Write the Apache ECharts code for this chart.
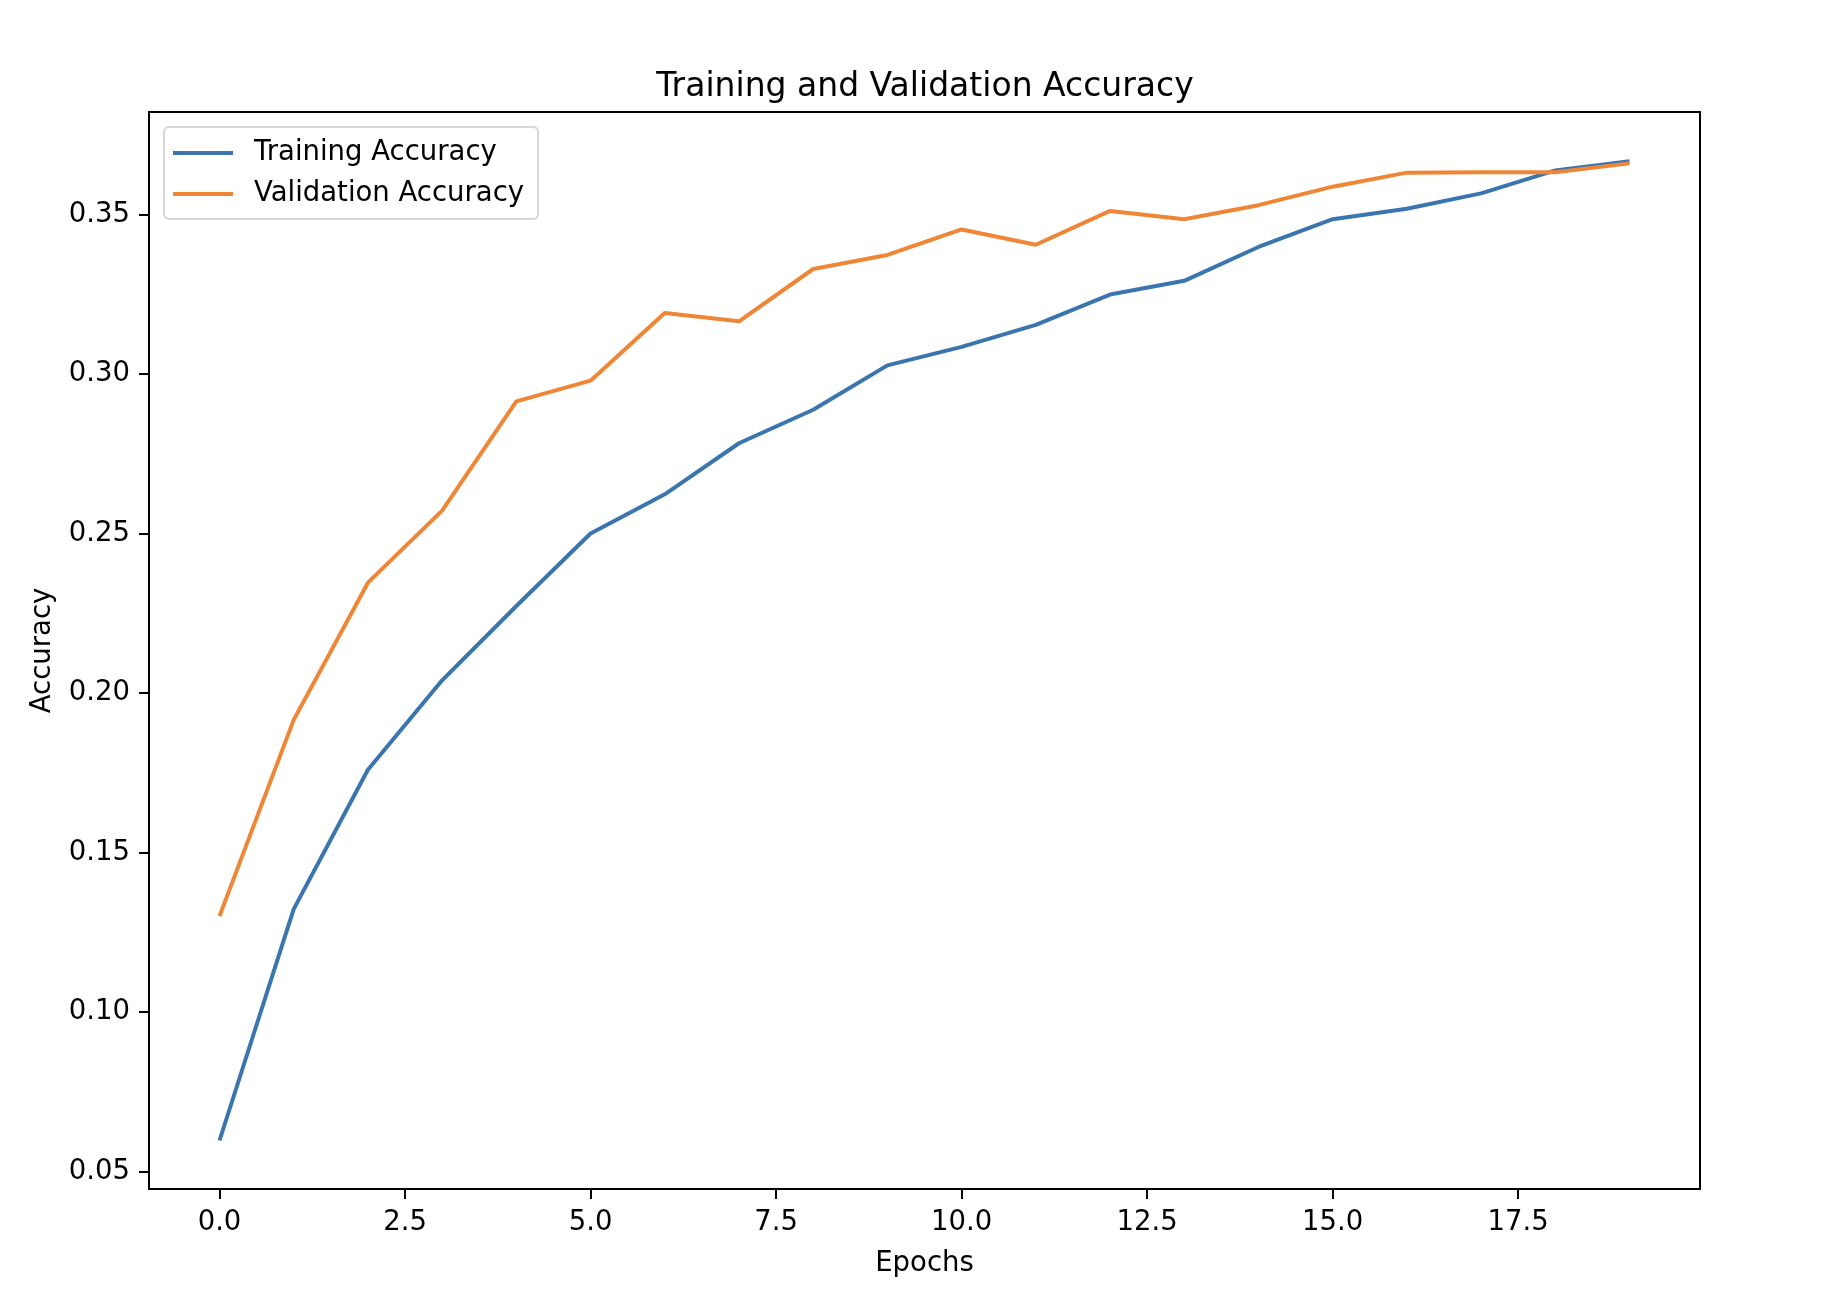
<!DOCTYPE html>
<html>
<head>
<meta charset="utf-8">
<script src="https://cdn.jsdelivr.net/npm/echarts@6/dist/echarts.min.js"></script>
<style>
  html, body { margin: 0; padding: 0; background: #fff; }
  #chart { width: 1824px; height: 1308px; }
</style>
</head>
<body>
<div id="chart"></div>
<script>
// epochs 0..19
const epochs = [0, 1, 2, 3, 4, 5, 6, 7, 8, 9, 10, 11, 12, 13, 14, 15, 16, 17, 18, 19];
const trainAcc = [0.0598, 0.1323, 0.1760, 0.2040, 0.2273, 0.2500, 0.2623, 0.2783, 0.2888, 0.3027,
                  0.3085, 0.3154, 0.3249, 0.3292, 0.3398, 0.3485, 0.3518, 0.3566, 0.3638, 0.3667];
const valAcc = [0.1301, 0.1916, 0.2346, 0.2572, 0.2914, 0.2979, 0.3191, 0.3165, 0.3329, 0.3373,
                0.3453, 0.3405, 0.3511, 0.3485, 0.3529, 0.3587, 0.3631, 0.3632, 0.3632, 0.3660];
const xTicks = [0, 2.5, 5, 7.5, 10, 12.5, 15, 17.5];
const yTicks = [0.05, 0.10, 0.15, 0.20, 0.25, 0.30, 0.35];

const FONT = 'DejaVu Sans';
const BLUE = '#3b75af';
const ORANGE = '#ef8636';

let chart = echarts.init(document.getElementById('chart'));

function pairs(ys){
    return epochs.map((e, i) => [e, ys[i]]);
}

let option = {
    animation: false,
    backgroundColor: '#fff',
    title: {
        text: 'Training and Validation Accuracy',
        left: 920,
        textAlign: 'center',
        top: 66,
        textStyle: { fontFamily: FONT, fontSize: 33, fontWeight: 'normal', color: '#000' }
    },
    legend: {
        orient: 'vertical',
        left: 164,
        top: 127,
        padding: [11, 14, 10, 9],
        itemGap: 11,
        itemWidth: 60,
        itemHeight: 4,
        icon: 'rect',
        backgroundColor: 'rgba(255,255,255,0.8)',
        borderColor: '#d6d6d6',
        borderWidth: 2,
        borderRadius: 5,
        textStyle: { fontFamily: FONT, fontSize: 27.5, color: '#000', lineHeight: 30, padding: [0, 0, 0, 16] },
        data: ['Training Accuracy', 'Validation Accuracy']
    },
    grid: {
        left: 149,
        right: 124,
        top: 112,
        bottom: 119,
        show: true,
        borderColor: '#000',
        borderWidth: 2
    },
    xAxis: {
        type: 'value',
        min: -0.95,
        max: 19.95,
        name: 'Epochs',
        nameLocation: 'middle',
        nameGap: 61,
        nameTextStyle: { fontFamily: FONT, fontSize: 27.5, color: '#000' },
        axisLine: { show: true, onZero: false, lineStyle: { color: '#000', width: 2 } },
        axisTick: { show: true, length: 10, lineStyle: { color: '#000', width: 2 }, customValues: xTicks },
        axisLabel: {
            fontFamily: FONT, fontSize: 27.5, color: '#000', margin: 20,
            customValues: xTicks,
            formatter: v => v.toFixed(1)
        },
        splitLine: { show: false }
    },
    yAxis: {
        type: 'value',
        min: 0.0446,
        max: 0.3821,
        name: 'Accuracy',
        nameLocation: 'middle',
        nameGap: 92,
        nameTextStyle: { fontFamily: FONT, fontSize: 27.5, color: '#000' },
        axisLine: { show: true, onZero: false, lineStyle: { color: '#000', width: 2 } },
        axisTick: { show: true, length: 10, lineStyle: { color: '#000', width: 2 }, customValues: yTicks },
        axisLabel: {
            fontFamily: FONT, fontSize: 27.5, color: '#000', margin: 19,
            customValues: yTicks,
            formatter: v => v.toFixed(2)
        },
        splitLine: { show: false }
    },
    series: [
        {
            name: 'Training Accuracy',
            type: 'line',
            data: pairs(trainAcc),
            showSymbol: false,
            color: BLUE,
            lineStyle: { color: BLUE, width: 4 }
        },
        {
            name: 'Validation Accuracy',
            type: 'line',
            data: pairs(valAcc),
            showSymbol: false,
            color: ORANGE,
            lineStyle: { color: ORANGE, width: 4 }
        }
    ]
};

chart.setOption(option);
</script>
</body>
</html>
